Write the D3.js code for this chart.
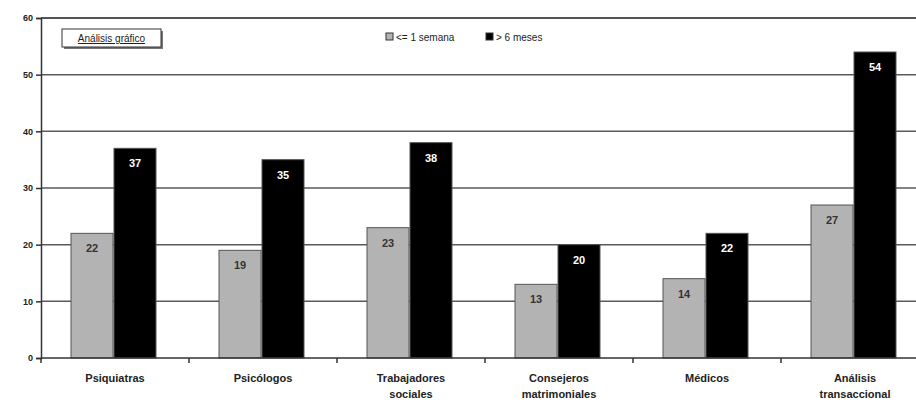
<!DOCTYPE html>
<html>
<head>
<meta charset="utf-8">
<script src="https://cdn.jsdelivr.net/npm/d3@7"></script>
<style>
  html, body { margin: 0; padding: 0; background: #fff; }
  svg { display: block; font-family: "Liberation Sans", Arial, sans-serif; }
</style>
</head>
<body>
<svg id="chart" width="916" height="406"></svg>
<script>
// Categories (two-line labels split by "\n")
const categories = ["Psiquiatras", "Psicólogos", "Trabajadores\nsociales", "Consejeros\nmatrimoniales", "Médicos", "Análisis\ntransaccional"];
const seriesNames = ["<= 1 semana", "> 6 meses"];
const shortTerm = [22, 19, 23, 13, 14, 27];
const longTerm = [37, 35, 38, 20, 22, 54];
const yTicks = [0, 10, 20, 30, 40, 50, 60];

const svg = d3.select("#chart");
const margin = { left: 41, top: 18, bottom: 48 };
const plotW = 888;
const H = 406;

const x = d3.scaleBand().domain(categories).range([margin.left, margin.left + plotW]).paddingInner(0).paddingOuter(0);
const y = d3.scaleLinear().domain([0, 60]).range([H - margin.bottom, margin.top]);

// Horizontal gridlines
svg.append("g").selectAll("line").data(yTicks.filter(d => d > 0)).join("line")
  .attr("x1", margin.left).attr("x2", margin.left + plotW)
  .attr("y1", d => y(d)).attr("y2", d => y(d))
  .attr("stroke", "#5a5a5a").attr("stroke-width", 1.5);

// Bars
const barW = 42;
const groupOffset = 30;
const series = [
  { name: seriesNames[0], values: shortTerm, fill: "#b3b3b3", text: "#333" },
  { name: seriesNames[1], values: longTerm, fill: "#000", text: "#fff" }
];
series.forEach((s, si) => {
  const g = svg.append("g");
  g.selectAll("rect").data(categories).join("rect")
    .attr("x", d => x(d) + groupOffset + si * (barW + 1))
    .attr("y", (d, i) => y(s.values[i]))
    .attr("width", barW)
    .attr("height", (d, i) => y(0) - y(s.values[i]))
    .attr("fill", s.fill)
    .attr("stroke", "#555").attr("stroke-width", 1);
  g.selectAll("text").data(categories).join("text")
    .attr("x", d => x(d) + groupOffset + si * (barW + 1) + barW / 2)
    .attr("y", (d, i) => y(s.values[i]) + 19)
    .attr("text-anchor", "middle")
    .attr("font-size", 11).attr("font-weight", "bold")
    .attr("fill", s.text)
    .text((d, i) => s.values[i]);
});

// Y axis
const yAxis = d3.axisLeft(y).tickValues(yTicks).tickSize(5).tickPadding(3);
const gy = svg.append("g").attr("transform", `translate(${margin.left},0)`).call(yAxis);
gy.select(".domain").attr("stroke", "#333").attr("stroke-width", 1.5);
gy.selectAll(".tick line").attr("stroke", "#333").attr("stroke-width", 1.5);
gy.selectAll(".tick text").attr("font-size", 9).attr("font-weight", "bold").attr("fill", "#222");

// X axis baseline with tick marks at category boundaries
const gx = svg.append("g");
gx.append("line")
  .attr("x1", margin.left).attr("x2", margin.left + plotW)
  .attr("y1", y(0)).attr("y2", y(0))
  .attr("stroke", "#333").attr("stroke-width", 1.5);
gx.selectAll("line.tk").data(categories).join("line").attr("class", "tk")
  .attr("x1", d => x(d)).attr("x2", d => x(d))
  .attr("y1", y(0)).attr("y2", y(0) + 5)
  .attr("stroke", "#333").attr("stroke-width", 1.5);

// Category labels
gx.selectAll("text.cat").data(categories).join("text").attr("class", "cat")
  .attr("text-anchor", "middle")
  .attr("font-size", 11).attr("font-weight", "bold").attr("fill", "#222")
  .each(function(d) {
    const lines = d.split("\n");
    const t = d3.select(this);
    lines.forEach((ln, i) => {
      t.append("tspan")
        .attr("x", x(d) + x.bandwidth() / 2)
        .attr("y", y(0) + 24 + i * 16)
        .text(ln);
    });
  });

// Top border at 60
svg.append("line")
  .attr("x1", margin.left).attr("x2", margin.left + plotW)
  .attr("y1", y(60)).attr("y2", y(60))
  .attr("stroke", "#444").attr("stroke-width", 1.5);

// Button-like label in the upper left
const btn = svg.append("g").attr("transform", "translate(62,29)");
btn.append("rect").attr("x", 2).attr("y", 2).attr("width", 99).attr("height", 18).attr("fill", "#777");
btn.append("rect").attr("width", 99).attr("height", 18).attr("fill", "#fff").attr("stroke", "#333").attr("stroke-width", 1);
btn.append("text").attr("x", 49.5).attr("y", 13).attr("text-anchor", "middle")
  .attr("font-size", 10).attr("fill", "#222").attr("text-decoration", "underline")
  .text("Análisis gráfico");

// Legend
const legend = svg.append("g").attr("transform", "translate(386,33)");
const legItems = [
  { name: seriesNames[0], fill: "#b3b3b3", x: 0 },
  { name: seriesNames[1], fill: "#000", x: 100 }
];
legItems.forEach(it => {
  legend.append("rect").attr("x", it.x).attr("y", 0).attr("width", 7).attr("height", 7)
    .attr("fill", it.fill).attr("stroke", "#333").attr("stroke-width", 1);
  legend.append("text").attr("x", it.x + 10).attr("y", 8)
    .attr("font-size", 10).attr("fill", "#222").text(it.name);
});
</script>
</body>
</html>
